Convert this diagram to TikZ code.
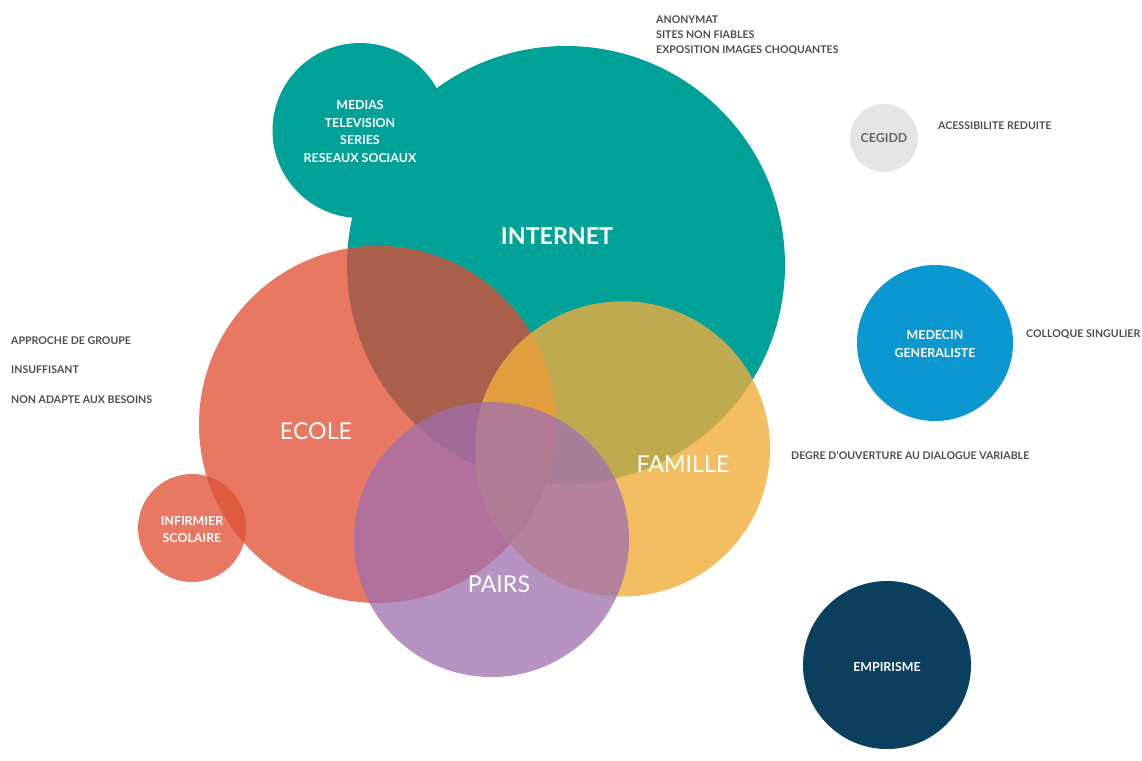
\documentclass[tikz,border=0pt]{standalone}
\usepackage{fontspec}
\setmainfont{Lato}
\definecolor{cTeal}{HTML}{00A298}
\definecolor{cEcole}{HTML}{E87862}
\definecolor{cBrown}{HTML}{AA5F4A}
\definecolor{cFam}{HTML}{F3BD62}
\definecolor{cOlive}{HTML}{C0AA50}
\definecolor{cOrange}{HTML}{E39F3E}
\definecolor{cInf}{HTML}{E05A42}
\definecolor{cPairs}{HTML}{9F6FB0}
\definecolor{cMed}{HTML}{0B97D0}
\definecolor{cEmp}{HTML}{0A405E}
\definecolor{cCeg}{HTML}{E8E3E6}
\definecolor{cSide}{HTML}{4E4E4E}
\definecolor{cCegTxt}{HTML}{666666}
\tikzset{
  big/.style={text=white,font=\fontsize{23.2}{28}\selectfont},
  lbl/.style={text=white,font=\bfseries\fontsize{12.4}{17.5}\selectfont,align=center,inner sep=0pt},
  side/.style={text=cSide,font=\bfseries\fontsize{10.6}{15}\selectfont,anchor=west,align=left,inner sep=0pt}
}
\begin{document}
\begin{tikzpicture}[x=1pt,y=-1pt]
\useasboundingbox (0,0) rectangle (1142,760);
\coordinate (cI) at (566,265);
\coordinate (cM) at (360,130.5);
\coordinate (cE) at (377.5,424.5);
\coordinate (cF) at (622.5,449);
\coordinate (cP) at (491.5,539.5);
\coordinate (cS) at (192,528);
\coordinate (cC) at (884,138);
\coordinate (cG) at (935,343);
\coordinate (cX) at (887,665);
% internet + medias
\fill[cTeal] (cI) circle (219);
\fill[cTeal] (cM) circle (87.5);
% ecole
\fill[cEcole] (cE) circle (178.5);
\begin{scope}
  \clip (cI) circle (219);
  \fill[cBrown] (cE) circle (178.5);
\end{scope}
% famille
\fill[cFam] (cF) circle (147.5);
\begin{scope}
  \clip (cI) circle (219);
  \fill[cOlive] (cF) circle (147.5);
\end{scope}
\begin{scope}
  \clip (cE) circle (178.5);
  \fill[cOrange] (cF) circle (147.5);
\end{scope}
% infirmier
\fill[cEcole] (cS) circle (54);
\begin{scope}
  \clip (cE) circle (178.5);
  \fill[cInf] (cS) circle (54);
\end{scope}
% pairs
\fill[cPairs,fill opacity=0.75] (cP) circle (137.5);
% others
\fill[cCeg] (cC) circle (34);
\fill[cMed] (cG) circle (78);
\fill[cEmp] (cX) circle (84);
% texts
\node[lbl] (tM) at (360,131.5) {MEDIAS\\TELEVISION\\SERIES\\RESEAUX SOCIAUX};
\node[big,font=\fontsize{23.2}{28}\selectfont\bfseries] (tI) at (557,236) {INTERNET};
\node[big] (tE) at (316,431) {ECOLE};
\node[big] (tF) at (683,464) {FAMILLE};
\node[big] (tP) at (499,584) {PAIRS};
\node[lbl] (tS) at (192,529.5) {INFIRMIER\\SCOLAIRE};
\node[lbl,text=cCegTxt] (tC) at (884,138) {CEGIDD};
\node[lbl] (tG) at (935,344) {MEDECIN\\GENERALISTE};
\node[lbl] (tX) at (887,667) {EMPIRISME};
\node[side] (s1) at (656,20) {ANONYMAT};
\node[side] (s2) at (656,35) {SITES NON FIABLES};
\node[side] (s3) at (656,50) {EXPOSITION IMAGES CHOQUANTES};
\node[side] (s4) at (938,126) {ACESSIBILITE REDUITE};
\node[side] (s5) at (11,341) {APPROCHE DE GROUPE};
\node[side] (s6) at (11,370) {INSUFFISANT};
\node[side] (s7) at (11,400) {NON ADAPTE AUX BESOINS};
\node[side] (s8) at (1026,334) {COLLOQUE SINGULIER};
\node[side] (s9) at (791,455) {DEGRE D'OUVERTURE AU DIALOGUE VARIABLE};
\end{tikzpicture}
\end{document}
